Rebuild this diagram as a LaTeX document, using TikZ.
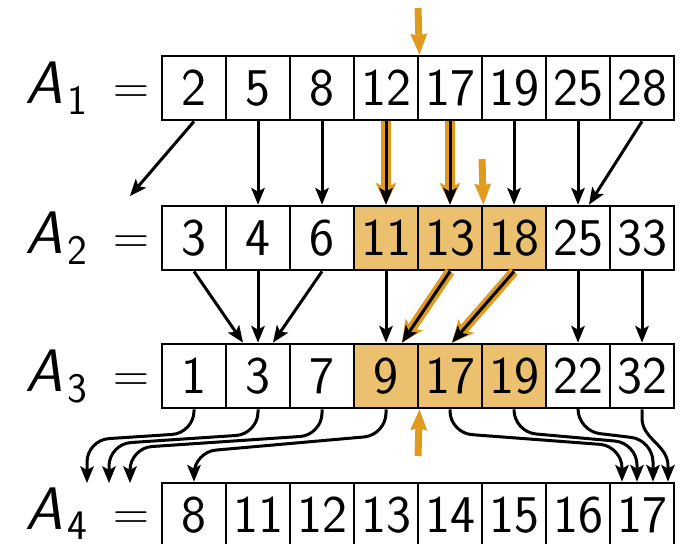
\documentclass[tikz,border=0pt]{standalone}
\usepackage{fontspec}
\usetikzlibrary{arrows.meta,calc}
\definecolor{hlfill}{RGB}{235,192,110}
\definecolor{hlarrow}{RGB}{224,155,30}
\begin{document}
\begin{tikzpicture}[x=0.5pt,y=-0.5pt,
  cell/.style={draw=black, line width=1.4pt, minimum width=32pt, minimum height=32pt,
    inner sep=0pt, text height=17.5pt, text depth=0pt,
    font=\sffamily\fontsize{26.5}{26.5}\selectfont},
  hcell/.style={cell, fill=hlfill},
  lbl/.style={anchor=base east, inner sep=0pt, font=\fontsize{30}{30}\selectfont},
  conn/.style={line width=1.5pt, line join=round,
    -{Stealth[length=8.5pt,width=7pt,inset=2pt,line width=0pt]}},
  halo/.style={conn, preaction={draw=hlarrow, line width=5pt,
    -{Stealth[length=11pt,width=10.5pt,inset=2.5pt,line width=0pt]}}},
  marker/.style={draw=hlarrow, line width=3.5pt,
    -{Stealth[length=10.5pt,width=8.5pt,inset=1pt,line width=0pt]}},
  curvedconn/.style={conn, rounded corners=11pt}
]
\useasboundingbox (0,0) rectangle (681,543);

% the four arrays
\foreach \v/\s [count=\i from 0] in {2/cell,5/cell,8/cell,12/cell,17/cell,19/cell,25/cell,28/cell}
  \node[\s] (a1-\i) at (194+64*\i,88) {\v};
\foreach \v/\s [count=\i from 0] in {3/cell,4/cell,6/cell,11/hcell,13/hcell,18/hcell,25/cell,33/cell}
  \node[\s] (a2-\i) at (194+64*\i,238) {\v};
\foreach \v/\s [count=\i from 0] in {1/cell,3/cell,7/cell,9/hcell,17/hcell,19/hcell,22/cell,32/cell}
  \node[\s] (a3-\i) at (194+64*\i,376) {\v};
\foreach \v/\s [count=\i from 0] in {8/cell,11/cell,12/cell,13/cell,14/cell,15/cell,16/cell,17/cell}
  \node[\s] (a4-\i) at (194+64*\i,515) {\v};

% row labels
\node[lbl] (n1) at (150,103) {$\textsf{\textit{A\kern2pt}}_{\mathsf{1}}\kern6pt =$};
\node[lbl] (n2) at (150,253) {$\textsf{\textit{A\kern2pt}}_{\mathsf{2}}\kern6pt =$};
\node[lbl] (n3) at (150,391) {$\textsf{\textit{A\kern2pt}}_{\mathsf{3}}\kern6pt =$};
\node[lbl] (n4) at (150,529) {$\textsf{\textit{A\kern2pt}}_{\mathsf{4}}\kern6pt =$};

% free ends
\coordinate (f0) at (130,196);
\coordinate (l0) at (87,483);
\coordinate (l1) at (109,483);
\coordinate (l2) at (130,483);
\coordinate (m1) at (418,8);
\coordinate (m2) at (482,159);
\coordinate (m3) at (418,456);

% A1 -> A2
\draw[conn] (a1-0.south) -- (f0);
\draw[conn] (a1-1.south) -- (a2-1.north);
\draw[conn] (a1-2.south) -- (a2-2.north);
\draw[halo] (a1-3.south) -- (a2-3.north);
\draw[halo] (a1-4.south) -- (a2-4.north);
\draw[conn] (a1-5.south) -- (a2-5.north);
\draw[conn] (a1-6.south) -- (a2-6.north);
\draw[conn] (a1-7.south) -- ($(a2-6.north)+(11,0)$);

% A2 -> A3
\draw[conn] (a2-0.south) -- ($(a3-1.north)+(-15,0)$);
\draw[conn] (a2-1.south) -- (a3-1.north);
\draw[conn] (a2-2.south) -- ($(a3-1.north)+(15,0)$);
\draw[conn] (a2-3.south) -- (a3-3.north);
\draw[halo] (a2-4.south) -- ($(a3-3.north)+(16,0)$);
\draw[halo] (a2-5.south) -- ($(a3-4.north)+(2,0)$);
\draw[conn] (a2-6.south) -- (a3-6.north);
\draw[conn] (a2-7.south) -- (a3-7.north);

% A3 -> A4
\draw[curvedconn] (a3-0.south) -- (194,433) -- (87,440) -- (l0);
\draw[curvedconn] (a3-1.south) -- (258,434) -- (109,444) -- (l1);
\draw[curvedconn] (a3-2.south) -- (322,435) -- (130,448) -- (l2);
\draw[curvedconn] (a3-3.south) -- (386,435) -- (194,452) -- (a4-0.north);
\draw[curvedconn] (a3-4.south) -- (450,433) -- (622,446) -- ($(a4-7.north)+(-20,0)$);
\draw[curvedconn] (a3-5.south) -- (514,432) -- (637,443) -- ($(a4-7.north)+(-5,0)$);
\draw[curvedconn] (a3-6.south) -- (578,431) -- (653,440) -- ($(a4-7.north)+(11,0)$);
\draw[conn] (a3-7.south) -- (642,418) to[out=-90,in=90] (668,466) -- ($(a4-7.north)+(26,0)$);

% search markers
\draw[marker] (m1) -- (a1-3.north east);
\draw[marker] (m2) -- (a2-4.north east);
\draw[marker] (m3) -- (a3-3.south east);
\end{tikzpicture}
\end{document}
